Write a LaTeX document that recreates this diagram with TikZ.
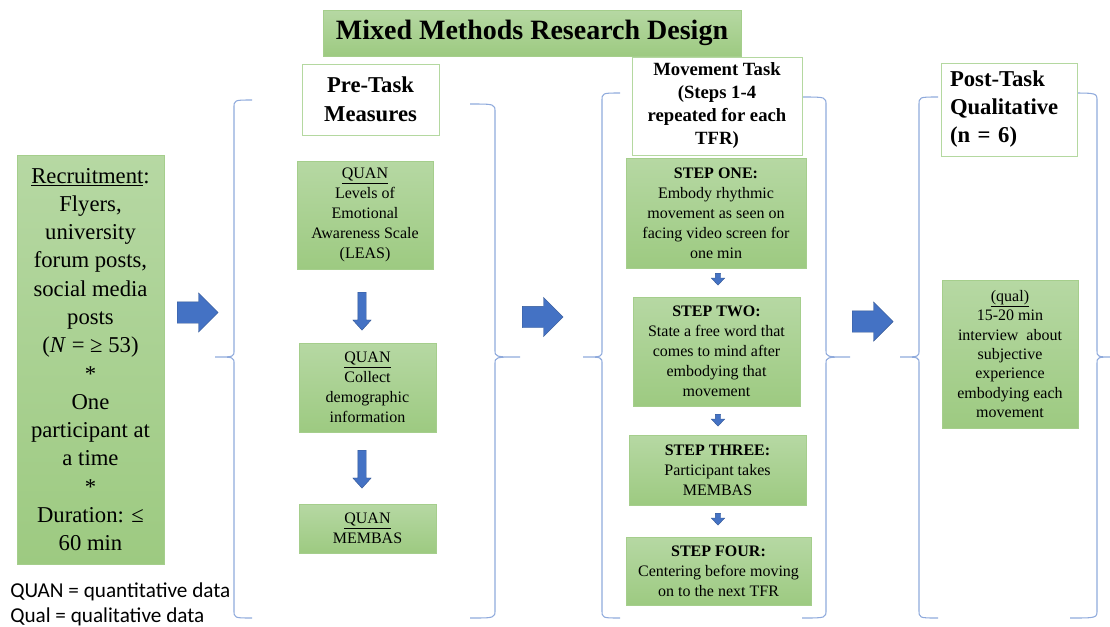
\documentclass[tikz,border=0pt]{standalone}
\usepackage{fontspec}
\setmainfont{Liberation Serif}
\newfontfamily\legendfont{Carlito}
\usetikzlibrary{shapes.arrows}

\definecolor{boxgreentop}{RGB}{182,216,163}
\definecolor{boxgreenbot}{RGB}{157,202,129}
\definecolor{boxgreenline}{RGB}{165,206,140}
\definecolor{headline}{RGB}{180,216,160}
\definecolor{arrowblue}{RGB}{68,114,196}
\definecolor{braceblue}{RGB}{143,170,220}

\begin{document}
\begin{tikzpicture}[x=0.75pt, y=-0.75pt,
	greenbox/.style={draw=boxgreenline, top color=boxgreentop, bottom color=boxgreenbot, align=center, inner sep=2pt},
	headbox/.style={draw=headline, fill=white, align=center, inner sep=2pt, font=\bfseries},
	bodytext/.style={font=\fontsize{12}{15}\selectfont},
	bigarrow/.style={single arrow, anchor=tail, fill=arrowblue, draw=arrowblue!75!black, line width=0.3pt, inner sep=7.875pt, minimum height=30.75pt, single arrow head extend=6.75pt, single arrow tip angle=90},
	downarrow/.style={bigarrow, shape border rotate=270, inner sep=3pt, minimum height=28.5pt, single arrow head extend=3.75pt, single arrow tip angle=84},
	steparrow/.style={downarrow, inner sep=1.875pt, minimum height=9pt, single arrow head extend=3pt, single arrow tip angle=86},
	bracel/.style={draw=braceblue, line width=0.8pt}]
			\useasboundingbox (0,0) rectangle (1110,626);
			% braces round the three columns
			\foreach \xl/\xt/\xh/\yt in {234/215/252/100, 495/520/470/104, 602/583/620/93, 826/850/802/97, 919/900/938/97, 1097/1114/1070/93}
				\draw[bracel] (\xh,\yt) .. controls (\xl,\yt) .. (\xl,\yt+8) -- (\xl,350) .. controls (\xl,357) .. (\xt,357) .. controls (\xl,357) .. (\xl,364) -- (\xl,610) .. controls (\xl,618) .. (\xh,618);
			\node[greenbox, minimum width=313.5pt, minimum height=34.5pt, font=\fontsize{21}{25}\selectfont\bfseries] (title) at (532,33) {Mixed Methods Research Design};
			\node[greenbox, minimum width=110.25pt, minimum height=306.75pt, font=\fontsize{17}{21.2}\selectfont] (recruit) at (90.5,359.5) {\underline{Recruitment}:\\ Flyers,\\ university\\ forum posts,\\ social media\\ posts\\ (\textit{N} = ≥ 53)\\ *\\ One\\ participant at\\ a time\\ *\\ Duration: ≤\\ 60 min};
			\node[anchor=west, align=left, inner sep=0pt, font=\legendfont\fontsize{15.9}{19}\selectfont] (legend) at (10,604.5) {QUAN = quantitative data\\ Qual = qualitative data};
			% pre-task column
			\node[headbox, minimum width=102.75pt, minimum height=53.25pt, font=\fontsize{17}{22}\selectfont\bfseries] (prehead) at (370.5,99.5) {Pre-Task\\ Measures};
			\node[greenbox, bodytext, minimum width=102pt, minimum height=81pt] (leas) at (365,215) {\underline{QUAN}\\ Levels of\\ Emotional\\ Awareness Scale\\ (LEAS)};
			\node[greenbox, bodytext, minimum width=102.75pt, minimum height=66.75pt] (demo) at (367.5,387.5) {\underline{QUAN}\\ Collect\\ demographic\\ information};
			\node[greenbox, bodytext, minimum width=102.75pt, minimum height=36.75pt] (membas) at (367.5,528.5) {\underline{QUAN}\\ MEMBAS};
			\node[downarrow] (down1) at (362,292) {};
			\node[downarrow] (down2) at (362,450) {};
			% movement task column
			\node[headbox, minimum width=127.5pt, minimum height=73.5pt, font=\fontsize{14}{17.25}\selectfont\bfseries] (movehead) at (717,106) {Movement Task\\ (Steps 1-4\\ repeated for each\\ TFR)};
			\node[greenbox, bodytext, minimum width=135pt, minimum height=82.5pt] (step1) at (716,213) {\textbf{STEP ONE:}\\ Embody rhythmic\\ movement as seen on\\ facing video screen for\\ one min};
			\node[greenbox, bodytext, minimum width=125.25pt, minimum height=81.75pt] (step2) at (716.5,351.5) {\textbf{STEP TWO:}\\ State a free word that\\ comes to mind after\\ embodying that\\ movement};
			\node[greenbox, bodytext, minimum width=132.75pt, minimum height=52.5pt] (step3) at (717.5,470) {\textbf{STEP THREE:}\\ Participant takes\\ MEMBAS};
			\node[greenbox, bodytext, minimum width=138.75pt, minimum height=51pt] (step4) at (718.5,571) {\textbf{STEP FOUR:}\\ Centering before moving\\ on to the next TFR};
			\node[steparrow] (sa1) at (718,273) {};
			\node[steparrow] (sa2) at (718,414) {};
			\node[steparrow] (sa3) at (718,513) {};
			% post-task column
			\node[headbox, align=left, text width=88.5pt, inner xsep=6.75pt, minimum height=69.75pt, font=\fontsize{17}{21}\selectfont\bfseries] (posthead) at (1009,109.5) {Post-Task\\ Qualitative\\ (n = 6)};
			\node[greenbox, minimum width=102pt, minimum height=111pt, font=\fontsize{12}{14.5}\selectfont] (qual) at (1010,354) {\underline{(qual)}\\ 15-20 min\\ interview~ about\\ subjective\\ experience\\ embodying each\\ movement};
			% arrows between the columns
			\node[bigarrow] (arr1) at (177,312.5) {};
			\node[bigarrow] (arr2) at (522,317) {};
			\node[bigarrow] (arr3) at (852,321.5) {};
		\end{tikzpicture}
\end{document}
